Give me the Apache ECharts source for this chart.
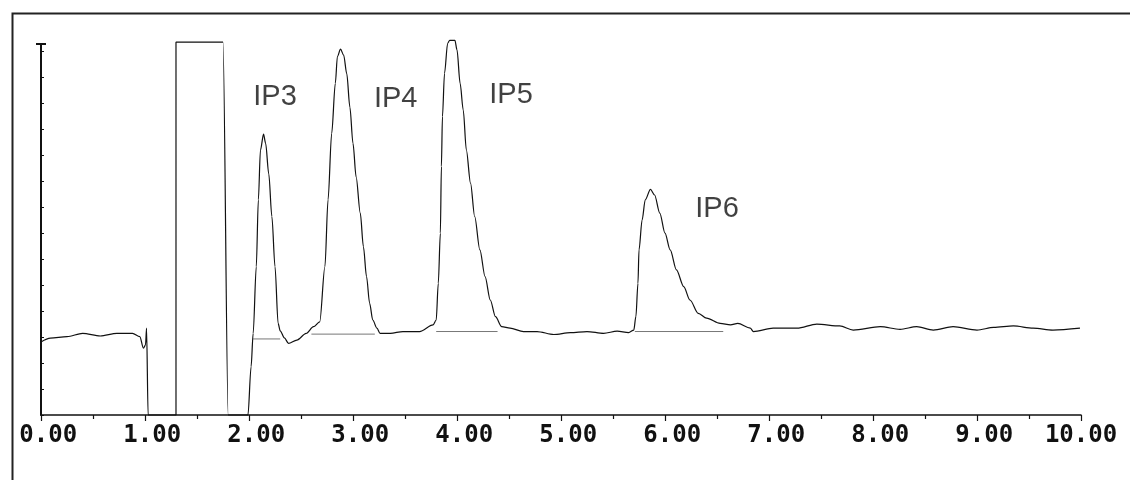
<!DOCTYPE html>
<html>
<head>
<meta charset="utf-8">
<script src="https://cdn.jsdelivr.net/npm/echarts@6/dist/echarts.min.js"></script>
<style>
html, body { margin: 0; padding: 0; background: #fff; }
#chart { width: 1130px; height: 480px; }
</style>
</head>
<body>
<div id="chart"></div>
<script>
// retention time (min) and detector signal
var times = [0, 0.09, 0.25, 0.40, 0.57, 0.73, 0.88, 0.95, 0.985, 1.005, 1.015, 1.03,
	1.298, 1.298, 1.75, 1.80, 1.99,
	2.02, 2.04, 2.07, 2.09, 2.11, 2.14, 2.16, 2.19, 2.22, 2.25, 2.28,
	2.30, 2.34, 2.38, 2.46, 2.55, 2.62, 2.68,
	2.73, 2.76, 2.795, 2.83, 2.85, 2.88, 2.91, 2.94, 2.97, 3.00, 3.03, 3.07, 3.10, 3.13, 3.16, 3.19, 3.23, 3.26,
	3.36, 3.48, 3.64, 3.77,
	3.80, 3.82, 3.84, 3.85, 3.86, 3.88, 3.91, 3.93, 3.98, 4.00, 4.03, 4.06, 4.09, 4.13, 4.17, 4.22, 4.27, 4.32, 4.37, 4.43, 4.51,
	4.64, 4.77, 4.93, 5.09, 5.25, 5.41, 5.54, 5.65,
	5.70, 5.72, 5.74, 5.75, 5.78, 5.81, 5.86, 5.90, 5.95, 6.00, 6.05, 6.11, 6.18, 6.24, 6.32, 6.40, 6.53, 6.63, 6.70, 6.82,
	6.85, 7.04, 7.27, 7.46, 7.68, 7.81, 8.07, 8.26, 8.42, 8.58, 8.77, 9.00, 9.16, 9.35, 9.54, 9.73, 9.99];
var signal = [19.7, 20.7, 21.1, 22.0, 21.3, 22.0, 22.0, 21.1, 18.0, 18.9, 23.4, 0,
	0, 100.5, 100.5, 0, 0,
	13, 22, 40, 58, 71.4, 75.7, 73.2, 65, 53.5, 40, 24.7,
	22.7, 20.8, 19.3, 20.2, 22.0, 23.8, 25.1,
	40, 58, 75.9, 89.4, 96.6, 98.6, 97, 92, 83, 73.2, 64.2, 54.4, 45.4, 37.3, 30.1, 25.6, 23.4, 22.0,
	22.0, 22.5, 22.5, 24.3,
	25.6, 35.5, 49, 67, 80.4, 92.1, 100.2, 101, 101, 98.4, 89.4, 82.2, 71.4, 62.5, 53.5, 44.5, 37.3, 31, 26.5, 23.8, 23.4,
	22.5, 22.5, 21.7, 22.2, 22.5, 22.0, 22.6, 22.2,
	22.9, 26.5, 35.5, 44.5, 52.6, 58, 60.8, 59.3, 54.4, 49, 44.5, 39.1, 34.6, 31, 27.4, 26.1, 24.7, 24.3, 24.7, 23.4,
	22.5, 23.4, 23.4, 24.5, 24.0, 22.9, 23.8, 23.1, 23.8, 22.9, 23.8, 22.9, 23.6, 24.0, 23.4, 22.9, 23.4];

// integration baselines under each peak
var baseStart = [2.04, 2.60, 3.80, 5.71];
var baseEnd = [2.30, 3.21, 4.39, 6.56];
var baseLevel = [20.5, 21.8, 22.5, 22.5];

// peak names and where they are written
var peakNames = ['IP3', 'IP4', 'IP5', 'IP6'];
var nameTimes = [2.25, 3.41, 4.52, 6.50];
var nameLevels = [85.8, 85.3, 86.3, 55.5];

var trace = [];
for (var i = 0; i < times.length; i++) {
	trace.push([times[i], signal[i]]);
}

var series = [{
	type: 'line',
	data: trace,
	showSymbol: false,
	clip: false,
	smooth: 0.3,
	smoothMonotone: 'x',
	lineStyle: { color: '#111', width: 1.2 },
	z: 3
}];

for (var i = 0; i < baseStart.length; i++) {
	series.push({
		type: 'line',
		data: [[baseStart[i], baseLevel[i]], [baseEnd[i], baseLevel[i]]],
		showSymbol: false,
		lineStyle: { color: '#777', width: 1 },
		z: 2
	});
}

var names = [];
for (var i = 0; i < peakNames.length; i++) {
	names.push({ value: [nameTimes[i], nameLevels[i]], name: peakNames[i] });
}
series.push({
	type: 'scatter',
	data: names,
	symbolSize: 0,
	clip: false,
	label: {
		show: true,
		position: 'inside',
		formatter: '{b}',
		fontFamily: 'Liberation Sans',
		fontSize: 29,
		color: '#111'
	}
});

var option = {
	animation: false,
	backgroundColor: '#fff',
	grid: { left: 41, top: 44, width: 1040, height: 371 },
	graphic: [{
		type: 'rect',
		left: 10,
		top: 11,
		shape: { width: 1130, height: 480 },
		style: { fill: 'none', stroke: '#222', lineWidth: 2 }
	}],
	xAxis: {
		type: 'value',
		min: 0,
		max: 10,
		interval: 1,
		axisLine: { lineStyle: { color: '#111', width: 1.5 } },
		axisTick: { length: 6, lineStyle: { color: '#111', width: 1.2 } },
		minorTick: { show: true, splitNumber: 2, length: 4, lineStyle: { color: '#111', width: 1.2 } },
		splitLine: { show: false },
		axisLabel: {
			margin: 9,
			fontFamily: 'DejaVu Sans Mono',
			fontWeight: 'bold',
			fontSize: 24,
			color: '#111',
			// printer labels are right-aligned, so pad to five characters
			formatter: function(v) {
				var s = v.toFixed(2);
				while (s.length < 5) s = ' ' + s;
				return s;
			}
		}
	},
	yAxis: {
		type: 'value',
		min: 0,
		max: 100,
		interval: 7,
		axisLine: {
			show: true,
			symbol: ['none', 'rect'],
			symbolSize: [10, 2],
			lineStyle: { color: '#111', width: 2 }
		},
		axisTick: { show: true, inside: true, length: 3, lineStyle: { color: '#111' } },
		axisLabel: { show: false },
		splitLine: { show: false }
	},
	series: series
};

echarts.init(document.getElementById('chart')).setOption(option);
</script>
</body>
</html>
